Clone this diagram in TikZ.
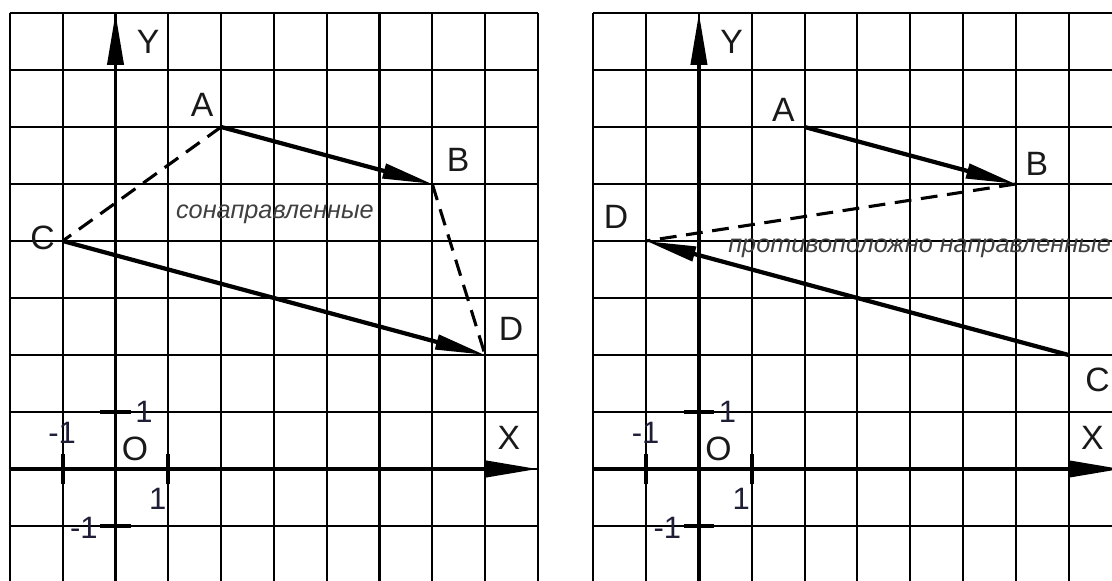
\documentclass[tikz,border=0pt]{standalone}
\usepackage{fontspec}
\setmainfont{Liberation Sans}
\usetikzlibrary{arrows.meta}
\definecolor{ink}{RGB}{30,30,55}
\definecolor{pen}{RGB}{25,25,25}
\tikzset{
  gridline/.style={line width=1.5pt, black, xstep=1.32cm, ystep=1.425cm},
  axis/.style={line width=2.8pt, -{Triangle[length=1.3cm,width=0.4cm]}},
  tick/.style={line width=2.8pt},
  vec/.style={line width=3pt, -{Triangle[length=1.25cm,width=0.36cm]}},
  dashline/.style={line width=2.2pt, dash pattern=on 0.42cm off 0.24cm},
  lbl/.style={inner sep=0pt, text=pen, font=\fontsize{24}{24}\selectfont},
  num/.style={inner sep=0pt, text=ink, font=\fontsize{22}{22}\selectfont},
  word/.style={inner sep=0pt, text=black!75, font=\fontsize{18}{18}\selectfont\itshape}
}
\begin{document}
\begin{tikzpicture}[x=1.32cm, y=1.425cm]
\useasboundingbox (-2.1875,-1.965) rectangle (18.873,8.228);
\clip (-2.1875,-1.965) rectangle (18.873,8.228);

% two coordinate planes
\foreach \sx/\p in {0/l, 11.05/r} {
\begin{scope}[shift={(\sx,0)}]
\draw[gridline] (-2,-2) grid (8,8);
\draw[axis] (-2,0) -- (8,0);
\draw[axis] (0,-2) -- (0,8);
\draw[tick] (-1,-0.27) -- (-1,0.27);
\draw[tick] (1,-0.27) -- (1,0.27);
\draw[tick] (-0.29,1) -- (0.29,1);
\draw[tick] (-0.29,-1) -- (0.29,-1);
\node[lbl] (Y\p) at (0.62,7.5) {Y};
\node[lbl] (X\p) at (7.45,0.55) {X};
\node[lbl] (O\p) at (0.37,0.35) {O};
\node[num] (yone\p) at (0.54,1.0) {1};
\node[num] (ymone\p) at (-0.6,-1.04) {-1};
\node[num] (xone\p) at (0.8,-0.53) {1};
\node[num] (xmone\p) at (-1.01,0.63) {-1};
\end{scope}
}

% left: codirected
\coordinate (A) at (2,6);
\coordinate (B) at (6,5);
\coordinate (C) at (-1,4);
\coordinate (D) at (7,2);
\draw[vec] (A) -- (B);
\draw[vec] (C) -- (D);
\draw[dashline] (A) -- (C);
\draw[dashline] (B) -- (D);
\node[lbl] (labA) at (1.64,6.39) {A};
\node[lbl] (labB) at (6.49,5.42) {B};
\node[lbl] (labC) at (-1.38,4.05) {C};
\node[lbl] (labD) at (7.49,2.46) {D};
\node[word] (same) at (3.02,4.46) {сонаправленные};

% right: opposite
\begin{scope}[shift={(11.05,0)}]
\coordinate (A2) at (2,6);
\coordinate (B2) at (6,5);
\coordinate (C2) at (7,2);
\coordinate (D2) at (-1,4);
\draw[vec] (A2) -- (B2);
\draw[vec] (C2) -- (D2);
\draw[dashline] (B2) -- (D2);
\node[lbl] (labA2) at (1.6,6.3) {A};
\node[lbl] (labB2) at (6.4,5.35) {B};
\node[lbl] (labC2) at (7.55,1.56) {C};
\node[lbl] (labD2) at (-1.57,4.42) {D};
\node[word, anchor=west] (opp) at (0.55,3.88) {противоположно направленные};
\end{scope}
\end{tikzpicture}
\end{document}
